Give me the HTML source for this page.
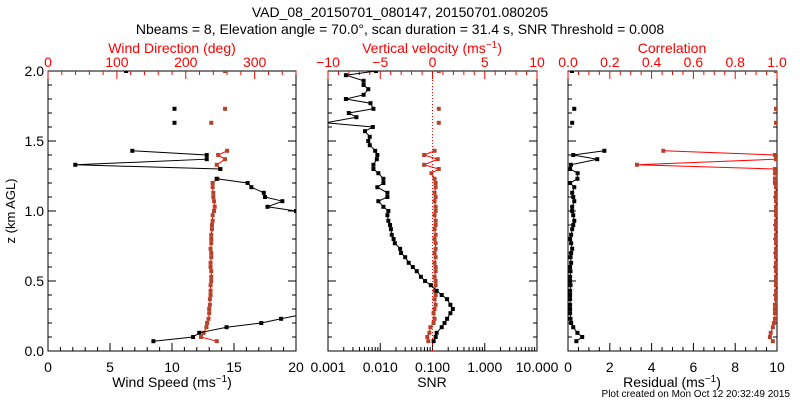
<!DOCTYPE html>
<html><head><meta charset="utf-8"><style>
html,body{margin:0;padding:0;background:#fff;width:800px;height:400px;overflow:hidden}
svg{display:block;font-family:"Liberation Sans",sans-serif}
</style></head><body>
<svg id="chart" width="800" height="400" viewBox="0 0 800 400" xmlns="http://www.w3.org/2000/svg">
<text x="400" y="17" text-anchor="middle" font-size="14">VAD_08_20150701_080147, 20150701.080205</text>
<text x="400" y="34" text-anchor="middle" font-size="14">Nbeams = 8, Elevation angle = 70.0°, scan duration = 31.4 s, SNR Threshold = 0.008</text>
<text transform="translate(15,211) rotate(-90)" text-anchor="middle" font-size="13">z (km AGL)</text>
<text x="172" y="53" text-anchor="middle" font-size="14" fill="#ff0000">Wind Direction (deg)</text>
<text x="432" y="53" text-anchor="middle" font-size="14" fill="#ff0000">Vertical velocity (ms<tspan dy="-5" font-size="10">−1</tspan><tspan dy="5">)</tspan></text>
<text x="672" y="53" text-anchor="middle" font-size="14" fill="#ff0000">Correlation</text>
<text x="172" y="387" text-anchor="middle" font-size="14">Wind Speed (ms<tspan dy="-5" font-size="10">−1</tspan><tspan dy="5">)</tspan></text>
<text x="432" y="387" text-anchor="middle" font-size="14">SNR</text>
<text x="672" y="387" text-anchor="middle" font-size="14">Residual (ms<tspan dy="-5" font-size="10">−1</tspan><tspan dy="5">)</tspan></text>
<text x="790" y="397" text-anchor="end" font-size="10">Plot created on Mon Oct 12 20:32:49 2015</text>
<defs>
<clipPath id="c1"><rect x="48" y="71" width="248" height="280"/></clipPath>
<clipPath id="c2"><rect x="328" y="71" width="209" height="280"/></clipPath>
<clipPath id="c3"><rect x="568" y="71" width="209" height="280"/></clipPath>
</defs>
</svg>
<script>
const heights=[0.07,0.10,0.13,0.17,0.20,0.23,0.27,0.30,0.33,0.37,0.40,0.43,0.47,0.50,0.53,0.57,0.60,0.63,0.67,0.70,0.73,0.77,0.80,0.83,0.87,0.90,0.93,0.97,1.00,1.03,1.07,1.10,1.13,1.17,1.20,1.23,1.27,1.30,1.33,1.37,1.40,1.43,1.47,1.50,1.53,1.57,1.60,1.63,1.67,1.70,1.73,1.77,1.80,1.83,1.87,1.90,1.93,1.97,2.00];
const windSpeed=[8.5,11.7,12.2,14.4,17.2,18.8,21,22,23,23,24,24,23,23,24,24,25,24,24,23,23,23,24,24,23,22,22,21,20,17.7,18.9,17.5,17.4,16.4,16.1,13.6,null,13.9,2.2,12.8,12.8,6.8,null,null,null,null,null,10.2,null,null,10.2,null,null,null,null,null,null,null,6.3];
const windDir=[245,222,226,230,231,233,234,234,235,235,236,236,236,237,237,237,236,236,237,237,236,237,237,237,238,238,239,239,241,242,241,240,240,239,239,246,null,250,245,257,247,260,null,null,null,null,null,237,null,null,257,null,null,null,null,null,null,null,257];
const snr=[0.105,0.115,0.12,0.15,0.17,0.19,0.22,0.245,0.22,0.19,0.15,0.12,0.093,0.072,0.06,0.05,0.042,0.035,0.030,0.025,0.024,0.019,0.018,0.0166,0.016,0.0154,0.0143,0.0137,0.0143,0.0115,0.0092,0.0137,0.0137,0.0088,0.0115,0.0115,0.0092,0.0074,0.0074,0.0086,0.0088,0.0080,0.0063,0.0059,0.0063,0.0051,0.0072,0.0009,0.0035,0.0025,0.0074,0.0065,0.0022,0.0048,0.0059,0.0048,0.0048,0.0022,0.0083];
const vertVel=[-0.4,-0.5,-0.3,-0.2,0.1,0.2,0.1,0.2,0.3,0.2,0.3,0.2,0.3,0.3,0.2,0.3,0.3,0.2,0.3,0.2,0.3,0.3,0.2,0.3,0.2,0.3,0.3,0.2,0.3,0.3,0.2,0.3,0.2,0.3,0.3,0.2,-0.1,0.6,-0.8,0.5,-0.8,0.2,null,null,null,null,null,0.6,null,null,0.6,null,null,null,null,null,null,null,0.6];
const residual=[0.4,0.68,0.45,0.25,0.15,0.12,0.1,0.1,0.1,0.1,0.1,0.1,0.12,0.1,0.1,0.12,0.1,0.15,0.12,0.15,0.2,0.15,0.1,0.15,0.2,0.25,0.3,0.25,0.2,0.2,0.3,0.25,0.2,0.3,0.1,0.45,0.46,0.1,0.14,1.4,0.25,1.74,null,null,null,null,null,0.2,null,null,0.3,null,null,null,null,null,null,null,0.19];
const correlation=[0.98,0.966,0.97,0.98,0.985,0.99,0.99,0.99,0.99,0.995,0.995,0.995,0.995,0.995,0.995,0.995,0.995,0.995,0.995,0.995,0.995,0.995,0.995,0.995,0.995,0.995,0.995,0.995,0.995,0.995,0.995,0.995,0.995,0.995,0.99,0.99,0.99,0.99,0.33,0.995,0.99,0.456,null,null,null,null,null,0.995,null,null,0.995,null,null,null,null,null,null,null,0.995];
const speedTicks=[0,5,10,15,20];
const dirTicks=[0,100,200,300];
const vvTicks=[-10,-5,0,5,10];
const snrTicks=["0.001","0.010","0.100","1.000","10.000"];
const resTicks=[0,2,4,6,8,10];
const corrTicks=["0.0","0.2","0.4","0.6","0.8","1.0"];
const zTicks=["0.0","0.5","1.0","1.5","2.0"];

const NS="http://www.w3.org/2000/svg";
const svg=document.getElementById('chart');
const Y0=351,Y1=71;
const yS=z=>Y0-(z/2)*(Y0-Y1);
function mk(tag,attrs,parent){const e=document.createElementNS(NS,tag);for(const k in attrs)e.setAttribute(k,attrs[k]);(parent||svg).appendChild(e);return e;}
function lin(a,b,x0,x1){return v=>x0+(v-a)/(b-a)*(x1-x0);}
const panels=[{x0:48,x1:296,clip:'c1'},{x0:328,x1:537,clip:'c2'},{x0:568,x1:777,clip:'c3'}];
const sx1=lin(0,20,48,296), dx1=lin(0,360,48,296);
const snrX=v=>328+(Math.log10(v)+3)/4*209, vvX=lin(-10,10,328,537);
const rX=lin(0,10,568,777), cX=lin(0,1,568,777);

function tk(x1,y1,x2,y2,col,name){const l=mk('line',{x1,y1,x2,y2,stroke:col,'stroke-width':1});}
function label(x,y,t,col,anchor,name){const e=mk('text',{x,y,'font-size':14,fill:col,'text-anchor':anchor||'middle'});e.textContent=t;}

panels.forEach((p,i)=>{
  const r=mk('rect',{x:p.x0,y:Y1,width:p.x1-p.x0,height:Y0-Y1,fill:'none',stroke:'#000','stroke-width':1});
  
  
  for(let z=0;z<=2.001;z+=0.1){const big=Math.abs(z*2-Math.round(z*2))<0.01;const L=big?8:4;
    tk(p.x0,yS(z),p.x0+L,yS(z),'#000','y-tick');tk(p.x1,yS(z),p.x1-L,yS(z),'#000','y-tick');}
});
zTicks.forEach(t=>label(44,yS(+t)+5,t,'#000','end','y-tick-label'));
for(let v=0;v<=20;v+=1){const big=v%5==0;tk(sx1(v),Y0,sx1(v),Y0-(big?8:4),'#000','x-tick');}
speedTicks.forEach(v=>label(sx1(v),372,String(v),'#000','middle','speed-tick-label'));
for(let v=0;v<=360;v+=20){const big=v%100==0;tk(dx1(v),Y1,dx1(v),Y1+(big?8:4),'#ff0000','dir-tick');}
dirTicks.forEach(v=>label(dx1(v),67,String(v),'#ff0000','middle','dir-tick-label'));
for(let d=-3;d<1;d++){for(let m=1;m<10;m++){const x=snrX(m*Math.pow(10,d));tk(x,Y0,x,Y0-(m==1?8:4),'#000','snr-tick');}}
snrTicks.forEach((t,i)=>label(328+i*209/4,372,t,'#000','middle','snr-tick-label'));
for(let v=-10;v<=10;v+=1){const big=v%5==0;tk(vvX(v),Y1,vvX(v),Y1+(big?8:4),'#ff0000','vv-tick');}
vvTicks.forEach(v=>label(vvX(v),67,v<0?'−'+Math.abs(v):String(v),'#ff0000','middle','vv-tick-label'));
const zl=mk('line',{x1:vvX(0),y1:Y1,x2:vvX(0),y2:Y0,stroke:'#ff0000','stroke-width':1,'stroke-dasharray':'1,2'});


for(let v=0;v<=10.01;v+=0.5){const big=Math.abs(v%2)<0.01;tk(rX(v),Y0,rX(v),Y0-(big?8:4),'#000','res-tick');}
resTicks.forEach(v=>label(rX(v),372,String(v),'#000','middle','res-tick-label'));
for(let v=0;v<=1.001;v+=0.05){const big=Math.abs(v*5-Math.round(v*5))<0.01;tk(cX(v),Y1,cX(v),Y1+(big?8:4),'#ff0000','corr-tick');}
corrTicks.forEach(t=>label(cX(+t),67,t,'#ff0000','middle','corr-tick-label'));

function series(vals,fx,clip,lineCol,mCol,name){
  const g=mk('g',{'clip-path':'url(#'+clip+')'});
  
  
  let d='',pen=false;
  vals.forEach((v,i)=>{if(v==null){pen=false;return;}const x=fx(v),y=yS(heights[i]);d+=(pen?'L':'M')+x.toFixed(1)+','+y.toFixed(1);pen=true;});
  const pth=mk('path',{d,fill:'none',stroke:lineCol,'stroke-width':1},g);
  
  
  vals.forEach((v,i)=>{if(v==null)return;const x=fx(v),y=yS(heights[i]);
    const m=mk('rect',{x:x-2,y:y-2,width:4,height:4,fill:mCol},g);
    
    });
}
series(windDir,dx1,'c1','#ff0000','#b5432b','wind-direction-series');
series(windSpeed,sx1,'c1','#000','#000','wind-speed-series');
series(vertVel,vvX,'c2','#ff0000','#b5432b','vertical-velocity-series');
series(snr,snrX,'c2','#000','#000','snr-series');
series(correlation,cX,'c3','#ff0000','#b5432b','correlation-series');
series(residual,rX,'c3','#000','#000','residual-series');
</script>
</body></html>
